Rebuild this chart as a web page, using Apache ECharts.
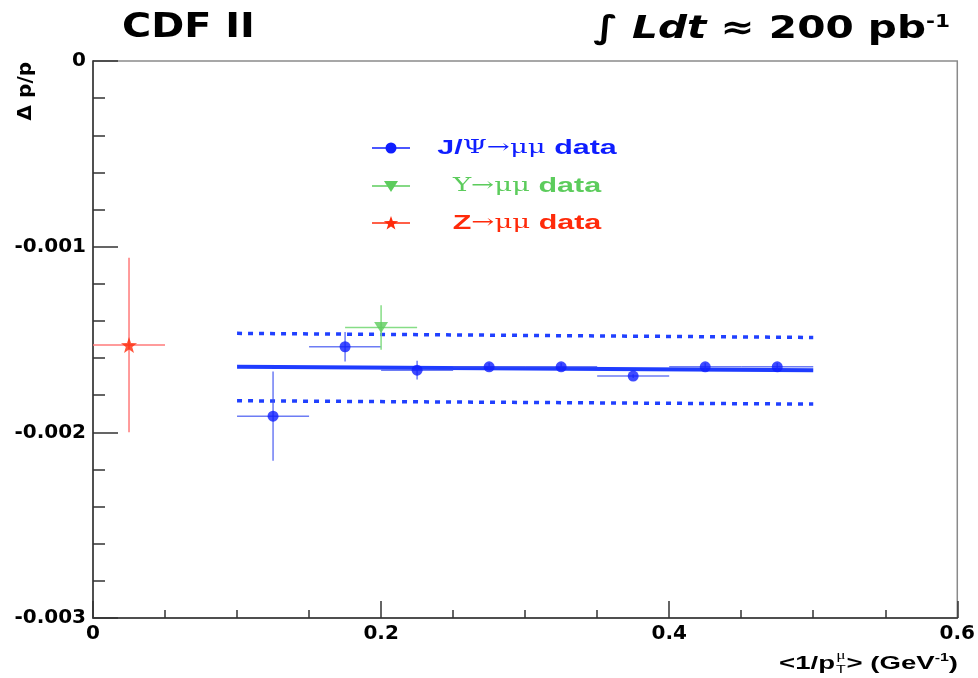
<!DOCTYPE html>
<html>
<head>
<meta charset="utf-8">
<script src="https://cdn.jsdelivr.net/npm/echarts@6/dist/echarts.min.js"></script>
<style>html,body{margin:0;padding:0;background:#fff}#c{width:978px;height:678px}</style>
</head>
<body>
<div id="c"></div>
<script>
// ---- data ----
const jpsiX    = [0.125, 0.175, 0.225, 0.275, 0.325, 0.375, 0.425, 0.475];
const jpsiY    = [-0.001913, -0.001539, -0.001665, -0.001647, -0.001647, -0.001697, -0.001647, -0.001647];
const jpsiXErr = [0.025, 0.025, 0.025, 0.025, 0.025, 0.025, 0.025, 0.025];
const jpsiYErr = [0.00024, 0.00008, 0.00005, 0.00002, 0.00002, 0.00001, 0.00002, 0.00002];

const upsX    = [0.2];
const upsY    = [-0.001435];
const upsXErr = [0.025];
const upsYErr = [0.00012];

const zX    = [0.025];
const zY    = [-0.00153];
const zXErr = [0.025];
const zYErr = [0.00047];

const fitX      = [0.1, 0.5];
const fitY      = [-0.001647, -0.001665];
const fitUpper  = [-0.001467, -0.001489];
const fitLower  = [-0.00183, -0.001848];

const xTicks = [0, 0.2, 0.4, 0.6];
const yTicks = [-0.003, -0.002, -0.001, 0];

const legendNames = ['J/Ψ→μμ data', 'Υ→μμ data', 'Z→μμ data'];

// ---- colours ----
const BLUE = '#0f1eff', BLUE_BAR = 'rgba(60,80,240,0.75)';
const GREEN = '#5ccc5c', GREEN_BAR = '#86dd86';
const RED = '#ff2a0a', RED_BAR = '#ff7a7a';

const STAR = 'path://M0,-10 L2.35,-3.24 L9.51,-3.09 L3.8,1.24 L5.88,8.09 L0,4 L-5.88,8.09 L-3.8,1.24 L-9.51,-3.09 L-2.35,-3.24 Z';

function pts(xs, ys) { return xs.map((x, i) => [x, ys[i]]); }
function errData(xs, ys, xe, ye) { return xs.map((x, i) => [x, ys[i], xe[i], ye[i]]); }

function errRender(color) {
  return function (params, api) {
    const x = api.value(0), y = api.value(1), xe = api.value(2), ye = api.value(3);
    const l = api.coord([x - xe, y]), r = api.coord([x + xe, y]);
    const t = api.coord([x, y + ye]), b = api.coord([x, y - ye]);
    return {
      type: 'group',
      children: [
        { type: 'line', shape: { x1: l[0], y1: l[1], x2: r[0], y2: r[1] }, style: { stroke: color, lineWidth: 1.5 } },
        { type: 'line', shape: { x1: t[0], y1: t[1], x2: b[0], y2: b[1] }, style: { stroke: color, lineWidth: 1.5 } }
      ]
    };
  };
}

const mctx = document.createElement('canvas').getContext('2d');
function tw(font, s) { mctx.font = font; return mctx.measureText(s).width; }

const chart = echarts.init(document.getElementById('c'));

const TICKFONT = 'DejaVu Sans';
const SX = 1.45; // horizontal stretch of the reference's text

// legend graphics
function legendRow(y, color, marker, textRich) {
  const items = [
    { type: 'line', shape: { x1: 372, y1: y, x2: 410, y2: y }, style: { stroke: color, lineWidth: 1.5 } }
  ];
  if (marker === 'circle') items.push({ type: 'circle', shape: { cx: 391, cy: y, r: 5.5 }, style: { fill: color } });
  if (marker === 'tri') items.push({ type: 'polygon', shape: { points: [[384, y - 5], [398, y - 5], [391, y + 6]] }, style: { fill: color } });
  if (marker === 'star') {
    const p = [];
    for (let k = 0; k < 10; k++) {
      const a = -Math.PI / 2 + k * Math.PI / 5, rr = k % 2 ? 3 : 7.5;
      p.push([391 + rr * Math.cos(a), y + 0.5 + rr * Math.sin(a)]);
    }
    items.push({ type: 'polygon', shape: { points: p }, style: { fill: color } });
  }
  items.push({
    type: 'text', x: 527, y: y, scaleX: SX, style: Object.assign({ align: 'center', verticalAlign: 'middle' }, textRich)
  });
  return items;
}

function legText(parts, color) {
  return {
    text: parts,
    rich: {
      s: { fontFamily: 'Liberation Sans', fontWeight: 'bold', fontSize: 21, fill: color, color: color },
      g: { fontFamily: 'DejaVu Serif', fontSize: 19, fill: color, color: color }
    }
  };
}

// x-axis title pieces (built in unscaled local coordinates, then stretched)
const XF = 'bold 19px "Liberation Sans"';
const wRight = tw(XF, '> (GeV') + tw('bold 11px "Liberation Sans"', '-1') + tw(XF, ')');
const xTitle = {
  type: 'group', x: 958, y: 664, scaleX: SX,
  children: [
    { type: 'text', x: 0, y: 0, style: {
        text: '> (GeV{sup|-1})', align: 'right', verticalAlign: 'middle',
        fontFamily: 'Liberation Sans', fontWeight: 'bold', fontSize: 19, fill: '#000',
        rich: { sup: { fontFamily: 'Liberation Sans', fontWeight: 'bold', fontSize: 11, fill: '#000', padding: [0, 0, 12, 0] } } } },
    { type: 'text', x: -wRight - 4, y: 6, style: { text: 'T', align: 'center', verticalAlign: 'middle', fontFamily: 'Liberation Sans', fontSize: 11, fill: '#000' } },
    { type: 'text', x: -wRight - 4, y: -8, style: { text: 'μ', align: 'center', verticalAlign: 'middle', fontFamily: 'Liberation Serif', fontSize: 12, fill: '#000' } },
    { type: 'text', x: -wRight - 8, y: 0, style: { text: '<1/p', align: 'right', verticalAlign: 'middle', fontFamily: 'Liberation Sans', fontWeight: 'bold', fontSize: 19, fill: '#000' } }
  ]
};

const option = {
  animation: false,
  backgroundColor: '#fff',
  grid: { left: 93, right: 17, top: 61, bottom: 60, show: true, borderColor: '#8a8a8a', borderWidth: 1.5, backgroundColor: 'transparent' },
  xAxis: {
    type: 'value', min: xTicks[0], max: xTicks[xTicks.length - 1], interval: 0.2,
    axisLine: { show: true, onZero: false, lineStyle: { color: '#333', width: 1.5 } },
    axisTick: { show: true, inside: true, length: 17, lineStyle: { color: '#333', width: 1.5 } },
    minorTick: { show: true, splitNumber: 4, length: 8, lineStyle: { color: '#333', width: 1.5 } },
    splitLine: { show: false },
    axisLabel: { margin: 6, fontFamily: TICKFONT, fontWeight: 'bold', fontSize: 20, color: '#000',
      formatter: v => String(+v.toFixed(1)) }
  },
  yAxis: {
    type: 'value', min: yTicks[0], max: yTicks[yTicks.length - 1], interval: 0.001,
    axisLine: { show: true, onZero: false, lineStyle: { color: '#333', width: 1.5 } },
    axisTick: { show: true, inside: true, length: 25, lineStyle: { color: '#333', width: 1.5 } },
    minorTick: { show: true, splitNumber: 5, length: 12, lineStyle: { color: '#333', width: 1.5 } },
    splitLine: { show: false },
    axisLabel: { margin: 7, fontFamily: TICKFONT, fontWeight: 'bold', fontSize: 20, color: '#000',
      formatter: v => (Math.abs(v) < 1e-12 ? '0' : String(+v.toFixed(3))) }
  },
  series: [
    { type: 'line', data: pts(fitX, fitY), symbol: 'none', silent: true, z: 2,
      lineStyle: { color: '#1f3cff', width: 4 } },
    { type: 'line', data: pts(fitX, fitUpper), symbol: 'none', silent: true, z: 2,
      lineStyle: { color: '#2040ff', width: 3.5, type: [5, 6] } },
    { type: 'line', data: pts(fitX, fitLower), symbol: 'none', silent: true, z: 2,
      lineStyle: { color: '#2040ff', width: 3.5, type: [5, 6] } },
    { type: 'custom', renderItem: errRender(BLUE_BAR), data: errData(jpsiX, jpsiY, jpsiXErr, jpsiYErr), encode: { x: 0, y: 1 }, z: 3, silent: true },
    { type: 'custom', renderItem: errRender(GREEN_BAR), data: errData(upsX, upsY, upsXErr, upsYErr), encode: { x: 0, y: 1 }, z: 3, silent: true },
    { type: 'custom', renderItem: errRender(RED_BAR), data: errData(zX, zY, zXErr, zYErr), encode: { x: 0, y: 1 }, z: 3, silent: true },
    { name: legendNames[0], type: 'scatter', data: pts(jpsiX, jpsiY), symbol: 'circle', symbolSize: 11, itemStyle: { color: BLUE }, z: 4 },
    { name: legendNames[1], type: 'scatter', data: pts(upsX, upsY), symbol: 'triangle', symbolRotate: 180, symbolSize: [14, 11], itemStyle: { color: GREEN }, z: 4 },
    { name: legendNames[2], type: 'scatter', data: pts(zX, zY), symbol: STAR, symbolSize: 16, itemStyle: { color: RED }, z: 4 }
  ],
  graphic: [
    { type: 'text', x: 122, y: 28, scaleX: 1.17, style: { text: 'CDF II', fontFamily: 'DejaVu Sans', fontWeight: 'bold', fontSize: 34, fill: '#000', verticalAlign: 'middle' } },
    { type: 'text', x: 950, y: 30, scaleX: 1.27, style: {
        text: '∫ {i|Ldt} ≈ 200 pb{sup|-1}', align: 'right', verticalAlign: 'middle',
        fontFamily: 'DejaVu Sans', fontWeight: 'bold', fontSize: 32, fill: '#000',
        rich: {
          i: { fontFamily: 'DejaVu Sans', fontStyle: 'italic', fontWeight: 'bold', fontSize: 32, fill: '#000' },
          sup: { fontFamily: 'DejaVu Sans', fontWeight: 'bold', fontSize: 17, fill: '#000', verticalAlign: 'top', padding: [0, 0, 14, 0] }
        } } },
    { type: 'text', x: 26, y: 62, rotation: Math.PI / 2, style: {
        text: 'Δ p/p', align: 'right', verticalAlign: 'middle',
        fontFamily: 'DejaVu Sans', fontWeight: 'bold', fontSize: 20, fill: '#000' } },
    xTitle
  ]
    .concat(legendRow(148, BLUE, 'circle', legText('{s|J/}{g|Ψ→μμ}{s| data}', BLUE)))
    .concat(legendRow(186, GREEN, 'tri', legText('{g|Υ→μμ}{s| data}', GREEN)))
    .concat(legendRow(223, RED, 'star', legText('{s|Z}{g|→μμ}{s| data}', RED)))
};

chart.setOption(option);
</script>
</body>
</html>
